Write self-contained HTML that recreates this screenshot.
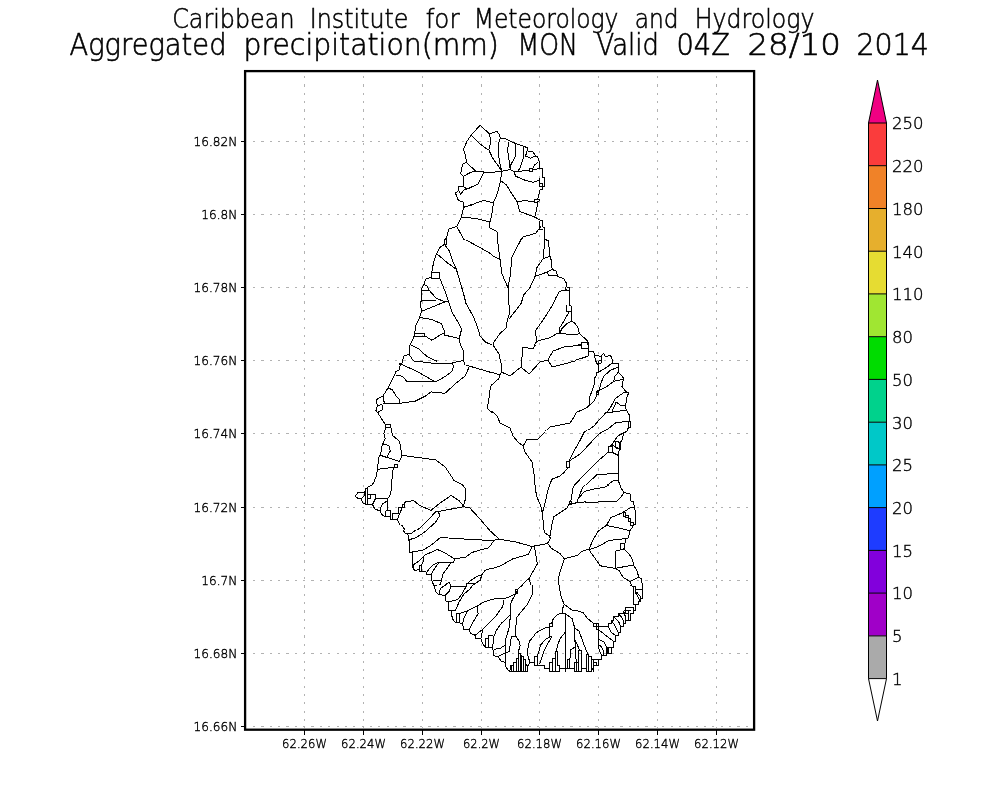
<!DOCTYPE html>
<html><head><meta charset="utf-8"><title>Aggregated precipitation</title>
<style>
html,body{margin:0;padding:0;background:#fff;}
body{width:1000px;height:800px;overflow:hidden;}
svg{display:block;}
.t1{font-family:'DejaVu Sans Light','DejaVu Sans','Liberation Sans',sans-serif;font-weight:200;font-size:26px;fill:#000;stroke:#000;stroke-width:0.55px;}
.t2{font-family:'DejaVu Sans Light','DejaVu Sans','Liberation Sans',sans-serif;font-weight:200;font-size:29.5px;fill:#000;stroke:#000;stroke-width:0.6px;}
.ax text{font-family:'DejaVu Sans Light','DejaVu Sans','Liberation Sans',sans-serif;font-weight:200;font-size:13px;fill:#000;stroke:#000;stroke-width:0.4px;}
.cb text{font-family:'DejaVu Sans Light','DejaVu Sans','Liberation Sans',sans-serif;font-weight:200;font-size:16.5px;fill:#000;stroke:#000;stroke-width:0.4px;}
</style></head><body>
<svg width="1000" height="800" viewBox="0 0 1000 800">
<rect width="1000" height="800" fill="#fff"/>
<text class="t1" y="27.5"><tspan x="172.2" textLength="122.3" lengthAdjust="spacingAndGlyphs">Caribbean</tspan> <tspan x="309.7" textLength="98.8" lengthAdjust="spacingAndGlyphs">Institute</tspan> <tspan x="425.7" textLength="33.8" lengthAdjust="spacingAndGlyphs">for</tspan> <tspan x="473.7" textLength="144.8" lengthAdjust="spacingAndGlyphs">Meteorology</tspan> <tspan x="634.7" textLength="43.8" lengthAdjust="spacingAndGlyphs">and</tspan> <tspan x="694.7" textLength="119.8" lengthAdjust="spacingAndGlyphs">Hydrology</tspan></text>
<text class="t2" y="54.6"><tspan x="69.5" textLength="157" lengthAdjust="spacingAndGlyphs">Aggregated</tspan> <tspan x="243.5" textLength="255.4" lengthAdjust="spacingAndGlyphs">precipitation(mm)</tspan> <tspan x="517.5" textLength="60.4" lengthAdjust="spacingAndGlyphs">MON</tspan> <tspan x="596.5" textLength="62.4" lengthAdjust="spacingAndGlyphs">Valid</tspan> <tspan x="676.5" textLength="53.4" lengthAdjust="spacingAndGlyphs">04Z</tspan> <tspan x="747.5" textLength="93.4" lengthAdjust="spacingAndGlyphs">28/10</tspan> <tspan x="856.5" textLength="72.4" lengthAdjust="spacingAndGlyphs">2014</tspan></text>
<g stroke="#b2b2b2" stroke-width="1" stroke-dasharray="2.2 6.15" fill="none" shape-rendering="crispEdges">
<line x1="304.5" y1="76" x2="304.5" y2="728"/>
<line x1="363.5" y1="76" x2="363.5" y2="728"/>
<line x1="422.5" y1="76" x2="422.5" y2="728"/>
<line x1="481.5" y1="76" x2="481.5" y2="728"/>
<line x1="539.5" y1="76" x2="539.5" y2="728"/>
<line x1="598.5" y1="76" x2="598.5" y2="728"/>
<line x1="657.5" y1="76" x2="657.5" y2="728"/>
<line x1="716.5" y1="76" x2="716.5" y2="728"/>
<line x1="253" y1="141.5" x2="753" y2="141.5"/>
<line x1="253" y1="214.5" x2="753" y2="214.5"/>
<line x1="253" y1="287.5" x2="753" y2="287.5"/>
<line x1="253" y1="360.5" x2="753" y2="360.5"/>
<line x1="253" y1="433.5" x2="753" y2="433.5"/>
<line x1="253" y1="507.5" x2="753" y2="507.5"/>
<line x1="253" y1="580.5" x2="753" y2="580.5"/>
<line x1="253" y1="653.5" x2="753" y2="653.5"/>
<line x1="253" y1="726.5" x2="753" y2="726.5"/>
</g>
<defs><clipPath id="cA"><rect x="330" y="205" width="340" height="35"/></clipPath><clipPath id="cB"><rect x="330" y="240" width="162" height="125"/></clipPath><clipPath id="cC"><rect x="492" y="240" width="178" height="105"/></clipPath><clipPath id="cD"><rect x="330" y="365" width="162" height="115"/></clipPath><clipPath id="cA2"><rect x="330" y="100" width="340" height="105"/></clipPath><clipPath id="cE"><rect x="492" y="345" width="83" height="85"/><rect x="492" y="430" width="53" height="55"/></clipPath><clipPath id="cF"><rect x="575" y="345" width="95" height="85"/></clipPath><clipPath id="cG"><rect x="545" y="430" width="125" height="55"/></clipPath><clipPath id="cH"><rect x="405" y="480" width="87" height="50"/><rect x="330" y="525" width="75" height="5"/><rect x="330" y="530" width="70" height="55"/></clipPath><clipPath id="cI"><rect x="492" y="485" width="178" height="100"/></clipPath><clipPath id="cH2"><rect x="330" y="480" width="75" height="45"/></clipPath><clipPath id="cH3"><rect x="400" y="530" width="92" height="55"/></clipPath><clipPath id="cJ"><rect x="330" y="585" width="205" height="115"/></clipPath><clipPath id="cK"><rect x="535" y="585" width="58" height="115"/><rect x="593" y="585" width="22" height="26"/></clipPath><clipPath id="cK2"><rect x="593" y="611" width="77" height="89"/></clipPath><clipPath id="cK3"><rect x="615" y="585" width="55" height="26"/></clipPath></defs>
<g fill="none" stroke="#000" stroke-width="1" stroke-linejoin="round" shape-rendering="crispEdges">
<path clip-path="url(#cA)" d="M480.4 125.4 L471.6 135.4 L466.4 142.4 L463.4 150.3 L465.9 156.4 L466.4 162.5 L462.5 166.0 L460.6 175.6 L463.4 177.4 L463.8 186.1 L458.9 186.7 L458.9 190.5 L455.9 193.2 L458.9 201.0 L463.8 201.9 L463.8 207.2 L461.1 217.7 L456.8 226.4 L448.9 229.0 L446.3 238.7 L444.5 239.5 L444.5 244.8 L438.4 248.3 L437.5 250.0 M480.4 125.4 L490.0 133.6 L497.0 131.4 L500.2 138.0 L505.8 138.5 L515.4 142.9 L527.1 147.6 L527.1 151.1 L533.8 152.9 L536.9 156.9 L539.4 162.5 L540.4 168.6 L542.5 169.5 L542.5 177.4 L544.6 177.9 L544.6 186.1 L542.2 187.0 L542.2 189.6 L539.4 190.2 L538.2 199.3 L540.8 200.2 L537.6 201.9 L536.9 208.0 L534.7 217.1 L540.8 220.3 L542.5 220.6 L542.5 226.9 L544.6 227.3 L544.6 239.5 L548.7 240.4 L549.9 250.0 M471.6 135.4 L480.4 144.1 L488.3 150.3 M490.0 133.6 L489.1 149.4 L493.5 160.8 L501.4 171.3 M499.8 138.9 L497.9 145.0 L497.9 153.8 L501.9 170.4 M509.3 141.5 L507.2 150.3 L508.4 162.5 L510.7 166.9 L505.8 170.7 M515.4 143.3 L514.5 153.8 L511.0 166.4 M527.1 151.1 L523.3 159.0 L519.8 170.4 M523.3 147.3 L527.1 147.3 L527.1 158.1 L523.3 158.1 L523.3 147.3 M525.0 158.1 L533.8 158.1 L535.9 155.9 M539.4 162.2 L533.8 166.0 L532.0 170.4 M529.4 168.6 L532.6 168.6 L532.6 171.3 L529.4 171.3 L529.4 168.6 M460.6 176.2 L470.8 172.1 L483.9 171.6 L501.4 171.3 L513.7 171.3 L529.4 170.4 L540.8 168.6 M466.4 162.5 L476.0 170.9 M483.9 171.6 L481.3 178.3 L477.8 184.4 L463.8 189.6 M458.9 186.7 L466.4 190.5 L463.8 201.9 M461.1 192.3 L462.9 189.6 M501.4 171.3 L497.9 187.0 L497.0 194.0 L493.5 201.9 L491.8 215.0 L490.0 222.0 M463.8 207.2 L486.5 200.7 L493.5 201.9 M461.1 217.1 L476.0 218.5 L490.0 222.0 L489.1 227.3 L497.0 231.7 L497.9 250.0 M501.4 171.3 L500.5 180.0 L509.3 188.8 L517.2 201.9 L528.5 200.2 L536.9 200.7 M513.7 171.3 L515.4 176.5 L525.0 180.0 L533.8 181.8 L539.4 180.0 M539.4 180.0 L539.4 190.2 M534.7 199.3 L538.2 199.3 M517.2 201.9 L519.8 211.5 L534.7 217.1 M540.8 226.4 L535.5 233.4 L523.3 236.9 L518.0 243.0 L515.4 250.0 M456.8 226.4 L463.8 239.5 L470.8 243.9 L482.1 250.0 M539.0 220.6 L539.0 229.0 L542.5 229.0 M444.5 239.5 L446.3 239.5 L446.3 244.8"/>
<path clip-path="url(#cB)" d="M448.5 230.0 L446.4 237.9 L444.5 238.4 L444.5 244.4 L439.8 247.5 L436.6 253.6 L433.7 261.5 L431.9 272.0 L431.4 277.3 L425.8 279.0 L424.0 284.3 L421.4 289.5 L421.4 300.0 L420.5 303.5 L421.4 311.4 L419.6 317.5 L416.1 324.5 L414.4 334.2 L413.5 338.5 L410.0 344.7 L409.1 354.3 L403.9 356.0 L402.1 363.0 L399.5 363.9 L399.2 370.0 M444.5 238.4 L446.4 238.4 L446.4 244.4 L444.5 244.4 M444.5 244.4 L449.4 251.0 L452.9 261.5 L456.4 269.4 L460.8 284.3 L464.3 296.5 L466.0 303.5 L473.9 317.5 L478.3 329.8 L480.0 335.9 L485.3 342.0 L493.2 345.5 L499.3 356.0 M493.2 345.5 L500.0 333.3 M459.0 230.0 L465.2 239.6 L478.3 246.6 L490.5 253.6 L500.0 258.0 M436.6 253.6 L446.8 262.4 L456.4 269.4 M431.4 272.4 L439.8 272.4 L439.8 278.1 L431.4 278.1 L431.4 272.4 M439.8 278.1 L445.0 291.3 L448.5 301.8 L452.0 312.3 L457.3 321.0 L461.7 328.9 L459.0 339.4 L460.8 345.5 L463.4 350.8 L463.4 360.4 L466.0 368.3 M424.0 284.3 L426.7 285.7 L429.3 290.4 L436.3 298.3 L445.0 301.8 M421.4 290.4 L429.3 290.4 M421.4 300.0 L436.3 300.0 M421.4 311.4 L445.0 301.8 L448.5 301.8 M419.6 317.5 L431.0 319.3 L441.5 323.7 L444.2 330.7 L444.2 335.0 L459.0 338.5 M414.4 333.3 L424.9 333.3 L424.9 336.3 L414.4 336.3 M424.9 335.9 L431.9 340.3 L441.5 334.2 L445.0 333.3 M410.0 344.7 L418.8 349.0 L427.5 356.9 L437.2 361.3 M409.1 354.3 L413.5 360.9 L431.0 363.0 L452.0 363.0 L463.4 360.4 M452.0 363.0 L453.8 370.0 M399.5 363.9 L417.0 370.0 M466.0 368.3 L469.5 365.7 L485.3 370.0"/>
<path clip-path="url(#cC)" d="M544.8 230.0 L545.1 239.6 L548.3 240.5 L550.0 256.3 L551.4 260.6 L552.1 269.4 L556.1 271.1 L557.9 276.4 L564.0 279.0 L566.1 282.5 L566.7 286.9 L569.6 287.8 L569.6 305.3 L571.4 306.1 L571.4 321.0 L575.4 323.7 L578.0 328.0 L579.4 333.3 L587.7 341.2 L588.5 350.8 L593.8 351.7 L594.1 354.3 L600.8 356.9 L603.4 353.4 L606.0 356.9 L610.4 355.2 L613.0 359.5 L613.4 363.0 L618.3 363.9 L619.2 370.0 M536.0 230.0 L535.1 233.5 L522.0 237.9 L516.8 247.5 L511.5 258.0 L510.6 273.8 L508.0 287.8 L508.9 303.5 L509.8 312.3 L507.1 321.0 L506.3 328.0 L500.1 333.3 L494.0 342.0 L493.1 345.5 M496.6 230.0 L497.5 240.5 L500.1 259.8 L501.9 273.8 L508.0 287.8 M480.0 247.5 L490.5 254.5 L500.1 259.8 M544.8 240.5 L543.0 258.9 L550.0 256.3 M543.0 258.9 L536.9 267.6 L535.1 276.4 L529.9 287.8 L523.8 294.8 L521.1 303.5 L515.0 311.4 L508.9 319.3 M535.1 276.4 L547.4 272.0 L552.1 269.4 M547.4 272.0 L548.3 275.2 L557.0 275.9 M566.7 289.5 L559.6 291.3 L556.1 297.4 L553.5 303.5 L544.8 317.5 L538.6 326.3 L535.1 331.5 L536.9 341.2 M565.3 286.9 L565.3 290.4 L569.6 290.4 M566.7 305.3 L566.7 311.4 L571.4 311.4 M569.3 311.4 L564.0 321.0 L559.6 328.0 L559.1 333.3 M571.4 321.0 L566.7 323.7 L562.3 328.0 L559.6 333.3 M559.1 333.3 L575.4 335.0 L579.4 333.3 M536.9 341.2 L550.0 337.7 L557.0 333.6 L559.6 333.3 M536.9 341.2 L532.5 348.2 L524.6 347.3 L522.9 356.0 L521.1 366.5 L517.6 370.0 M581.5 342.4 L588.2 342.4 L588.2 348.2 L581.5 348.2 L581.5 342.4 M581.5 344.7 L564.0 346.4 L551.8 350.8 L547.4 359.5 L550.9 366.5 L567.5 363.0 L586.8 356.9 L588.5 350.8 M547.4 359.5 L539.5 362.2 L532.5 370.0 M493.1 345.5 L497.5 352.5 L500.1 359.5 L501.0 370.0 M480.0 335.9 L483.5 338.5 L487.0 342.9 L493.1 345.5 M521.1 366.5 L523.8 370.0"/>
<path clip-path="url(#cD)" d="M400.4 362.6 L399.5 369.6 L396.0 371.4 L392.5 379.3 L388.1 388.0 L382.9 395.9 L376.8 399.4 L375.9 401.1 L377.6 405.5 L375.9 410.8 L377.6 412.5 L385.5 424.8 L385.9 427.4 L383.8 433.5 L385.2 438.8 L382.0 445.8 L380.6 454.5 L378.5 458.0 L377.6 469.4 L375.9 477.3 L372.4 485.2 L366.3 488.7 L365.4 493.0 L358.4 493.4 L356.1 495.7 L358.4 498.3 L365.4 498.3 L366.3 500.0 M413.5 360.0 L431.0 362.6 L452.0 362.6 L463.4 360.0 M452.0 362.6 L453.8 365.3 L452.0 371.4 L445.0 376.6 L435.4 381.9 L417.0 371.4 L399.5 363.5 M395.7 375.4 L402.1 376.1 L407.4 381.9 L435.4 381.9 M463.4 360.0 L466.0 365.3 L469.5 366.1 L500.0 375.1 M469.5 366.1 L465.2 375.8 L455.5 383.6 L445.0 393.3 L431.0 391.9 L425.8 395.9 L415.3 401.1 L399.5 403.4 L382.9 403.4 M388.1 388.0 L392.5 389.8 L396.0 395.9 L399.5 399.4 L399.5 403.4 M382.9 395.9 L383.8 401.1 L385.5 403.4 M377.6 405.5 L382.0 404.6 L382.0 409.9 L377.6 412.5 M385.9 424.4 L390.8 424.4 L390.8 427.4 L385.9 427.4 M390.8 427.4 L392.5 435.3 L399.5 441.4 L402.1 455.4 L399.5 461.5 L380.6 455.4 M382.0 444.0 L388.7 445.3 L390.4 451.0 L387.6 455.4 L386.9 457.7 M402.1 455.4 L435.4 459.8 L445.0 466.8 L453.8 479.9 L464.3 486.0 L466.0 493.0 L465.2 500.0 M394.3 464.2 L397.4 464.2 L397.4 467.1 L394.3 467.1 L394.3 464.2 M377.6 469.4 L394.3 467.1 M393.4 467.1 L391.6 482.5 L390.8 491.3 L389.0 500.0 M500.0 375.1 L490.5 386.3 L488.8 400.3 L487.0 408.1 L495.8 416.0 L500.0 421.3 M445.0 500.0 L452.0 494.8 L456.4 500.0 M365.4 488.7 L367.7 488.7 L367.7 500.0 M366.3 494.4 L375.0 494.4 L375.0 499.2 L387.3 499.2"/>
<path clip-path="url(#cA2)" d="M480.1 125.4 L471.4 134.6 L466.9 141.4 L463.5 149.2 L465.7 156.0 L466.3 162.5 L462.6 164.4 L460.7 174.0 L463.5 176.2 L463.5 186.4 L458.8 186.6 L458.8 190.3 L455.4 193.1 L458.4 200.4 L463.5 202.1 L463.5 210.0 M480.1 125.4 L489.9 134.1 L491.1 133.5 L496.7 131.2 L498.9 134.1 L500.3 138.0 L505.1 138.6 L514.7 143.1 L527.1 147.6 L527.1 150.9 L532.7 151.5 L535.5 156.0 L537.7 156.6 L539.4 162.2 L539.4 168.4 L542.2 168.6 L542.2 177.4 L544.7 177.6 L544.7 186.4 L542.2 186.9 L542.2 189.5 L540.0 189.7 L538.9 194.2 L537.7 199.3 L540.0 200.1 L537.2 202.1 L537.2 210.0 M471.4 135.2 L480.4 144.2 L488.2 150.1 M489.9 134.1 L490.3 143.6 L488.8 149.8 L492.7 158.2 L498.4 166.1 L501.7 171.2 M500.3 138.0 L498.4 144.2 L498.1 152.6 L499.5 161.6 L501.7 171.2 M508.7 142.3 L507.6 149.2 L508.5 157.1 L509.6 163.9 L510.2 169.5 M515.0 143.8 L515.0 157.1 L510.7 165.0 L510.2 169.5 M523.1 147.0 L523.1 158.8 L520.3 167.2 L518.1 171.2 M527.1 150.9 L525.6 156.0 L530.4 158.2 L534.4 156.2 M537.7 162.7 L534.4 165.0 L532.1 169.5 M529.3 168.4 L532.3 168.4 L532.3 171.2 L529.3 171.2 L529.3 168.4 M532.3 170.1 L539.4 168.4 M466.3 162.5 L475.9 171.2 M463.5 176.2 L470.8 172.3 L475.9 171.2 L483.7 171.7 L486.0 172.9 L495.0 172.0 L501.7 171.2 L510.2 169.5 L513.6 171.5 L518.1 171.2 L529.3 170.6 M483.7 172.0 L481.5 177.4 L478.1 183.9 L466.9 189.2 L463.5 190.3 M458.8 190.3 L460.7 194.2 L463.5 190.3 M463.5 186.4 L466.9 189.2 M501.7 171.2 L500.6 180.7 L498.4 189.7 L496.7 195.4 L493.3 202.7 L492.2 210.0 M463.5 207.2 L472.5 204.4 L483.7 200.4 L493.3 202.7 M500.6 180.7 L506.2 184.7 L510.7 192.0 L515.2 198.7 L517.5 202.1 L518.6 210.0 M513.6 171.5 L515.8 176.2 L523.1 179.6 L533.2 182.4 L537.7 180.7 L539.4 180.2 M539.4 177.6 L539.4 186.4 L542.2 186.9 M540.0 183.6 L542.8 183.6 L542.8 189.2 M517.5 202.1 L524.2 200.4 L534.4 202.1 L537.2 202.1 M534.4 199.3 L538.3 199.3 M534.4 199.3 L534.4 202.1"/>
<path clip-path="url(#cE)" d="M579.0 330.0 L580.0 334.0 L588.0 341.0 L589.0 351.0 L594.0 351.0 L595.0 355.0 L600.0 357.0 M480.0 337.0 L488.0 342.0 L493.0 345.0 L499.0 354.0 L501.4 365.0 L501.4 372.0 L500.0 375.0 L499.0 378.4 L491.0 386.0 L489.4 394.0 L487.4 403.0 L487.4 408.0 L497.0 415.6 L500.0 423.0 L510.0 428.0 L513.0 436.0 L518.0 442.0 L523.0 446.0 L525.0 452.0 L532.0 462.0 L534.0 474.0 L535.0 490.0 M480.0 368.6 L500.0 375.0 M501.4 372.0 L510.0 376.0 L521.0 367.0 L529.0 374.0 L540.0 362.0 L548.0 360.0 M493.0 345.0 L502.0 330.0 M521.0 367.0 L523.0 347.0 L533.0 349.0 L537.0 342.0 L552.0 338.0 L560.0 333.0 L579.0 334.0 M535.0 330.0 L537.0 342.0 M560.0 330.0 L560.0 333.0 M581.6 342.4 L588.0 342.4 L588.0 348.4 L581.6 348.4 L581.6 342.4 M581.6 345.0 L564.0 347.0 L553.0 351.0 L548.0 360.0 L552.0 367.0 L568.0 363.0 L588.0 357.0 L589.0 351.0 M523.0 446.0 L527.0 439.6 L538.0 439.0 L550.0 427.0 L570.0 423.0 L578.0 411.0 L589.0 406.0 L590.0 396.0 L595.0 384.0 L598.0 373.0 L600.0 364.0 L600.0 360.0 M628.4 393.0 L618.0 399.0 L608.0 412.0 L598.0 421.0 L584.0 433.0 L576.0 448.0 L570.0 460.0 M629.0 421.0 L612.0 424.0 L598.0 434.0 L570.0 460.0 M566.4 461.0 L569.6 461.0 L569.6 468.0 L566.4 468.0 L566.4 461.0 M568.0 468.0 L564.0 474.0 L553.0 479.0 L550.0 486.0 L549.0 490.0 M606.0 455.0 L568.0 476.0 M618.0 456.0 L608.0 455.0 L592.0 468.0 L574.0 486.0 L571.0 490.0"/>
<path clip-path="url(#cF)" d="M588.1 340.0 L588.8 351.2 L593.8 351.5 L594.4 355.6 L601.2 356.2 L603.5 353.1 L605.6 356.9 L610.0 355.2 L611.9 357.5 L612.5 363.1 L618.1 363.5 L618.5 372.5 L621.2 375.0 L623.8 378.8 L622.5 383.1 L621.9 386.2 L625.0 390.6 L628.5 393.1 L626.9 397.5 L625.6 405.6 L626.2 410.0 L629.4 415.0 L630.0 421.2 L630.6 427.5 L628.1 428.1 L626.2 432.5 L623.1 433.8 L621.9 440.0 M581.5 342.5 L588.1 342.5 L588.1 348.5 L581.5 348.5 L581.5 342.5 M581.5 345.0 L572.5 346.0 L560.0 348.8 M588.5 348.5 L588.5 356.2 M588.1 356.2 L572.5 361.2 L560.0 365.6 M594.4 355.6 L595.6 360.6 L597.5 364.4 L598.8 363.1 M598.8 360.6 L601.2 360.6 L601.2 363.1 L598.8 363.1 L598.8 360.6 M598.8 363.1 L598.1 372.5 L596.2 373.1 L596.2 375.6 L595.0 377.5 L593.8 386.2 L590.0 396.2 L589.0 405.6 L586.2 408.1 L576.2 412.5 L572.5 418.8 L570.0 423.1 L560.0 425.0 M601.2 356.2 L601.2 360.6 M611.9 363.1 L607.5 366.9 L598.1 372.5 M618.1 366.9 L610.0 370.6 L603.8 376.2 L601.2 382.5 L599.4 390.0 L596.9 392.5 L596.9 394.4 M618.1 372.5 L614.4 376.9 L613.8 381.2 L623.1 379.4 M613.8 381.2 L606.2 386.9 L598.8 390.6 M596.5 390.6 L598.8 390.6 L598.8 394.4 L596.5 394.4 L596.5 390.6 M597.5 394.4 L593.8 401.2 L589.4 405.6 M628.5 393.1 L623.8 392.5 L615.0 398.8 L611.2 406.2 L607.5 411.9 M616.2 401.9 L611.9 411.9 M616.2 401.9 L620.0 405.0 L625.6 405.6 M626.2 410.0 L615.0 411.9 L606.2 412.5 L600.0 418.8 L593.8 426.2 L585.0 432.5 L580.6 440.0 M628.5 421.0 L630.6 421.0 L630.6 427.5 L628.5 427.5 L628.5 421.0 M628.5 421.2 L622.5 421.9 L615.0 423.1 L607.5 429.4 L598.8 435.0 L593.1 440.0 M628.1 428.1 L626.2 432.5 L618.8 435.0 L615.0 440.0"/>
<path clip-path="url(#cG)" d="M630.7 420.7 L630.7 426.7 L628.5 427.5 L627.0 431.2 L624.0 432.7 L621.7 441.0 L619.5 442.5 L619.5 449.2 L618.0 455.2 L618.0 480.0 L621.0 487.5 L623.2 492.0 L630.0 493.5 L630.7 501.0 L633.7 501.7 L634.5 510.0 L635.2 516.0 L635.2 522.0 L633.7 522.7 L633.0 528.0 L630.0 528.7 L629.2 531.7 L628.5 540.0 M628.5 420.7 L628.5 427.5 M538.1 438.9 L543.0 432.7 L546.7 428.7 L550.5 426.0 L559.5 424.5 L570.0 422.2 L572.2 420.0 M598.5 420.0 L592.5 426.7 L584.2 432.0 L579.7 441.0 L574.5 450.0 L569.2 460.5 M566.7 461.2 L569.7 461.2 L569.7 467.2 L566.7 467.2 L566.7 461.2 M568.2 467.2 L564.0 472.5 L559.5 476.2 L552.0 479.2 L549.0 486.0 L546.0 496.5 L543.3 508.5 L542.2 513.0 L542.2 525.0 L543.7 531.7 L549.7 535.5 L551.2 537.0 L549.7 540.0 M540.0 504.7 L542.2 511.5 M628.5 421.5 L615.0 423.0 L607.5 429.0 L598.5 434.2 L589.5 444.0 L580.5 453.7 L570.0 460.5 M624.0 432.7 L618.0 435.7 L614.2 441.0 L612.0 444.7 L609.0 447.0 L608.2 452.2 L598.5 460.5 L585.0 474.0 L573.7 486.0 L571.5 498.0 L570.0 501.7 M614.2 441.0 L620.2 442.5 M612.0 444.7 L617.2 447.7 L619.5 449.2 M608.2 446.2 L612.0 446.2 L612.0 452.2 L608.2 452.2 L608.2 446.2 M615.0 441.0 L620.2 442.5 L620.2 449.2 L615.0 447.7 L615.0 441.0 M618.0 455.2 L612.0 452.2 M618.0 473.2 L597.0 474.7 L589.5 481.5 L579.0 492.0 L572.2 499.5 M618.0 480.0 L613.5 480.7 L606.0 486.0 L592.5 489.0 L585.0 492.0 L577.5 502.5 M569.7 501.0 L572.2 501.0 L572.2 504.0 L569.7 504.0 L569.7 501.0 M623.2 492.0 L619.5 498.0 L613.5 501.7 L603.0 501.7 L594.0 503.2 L588.0 501.7 L577.5 502.5 L570.0 504.0 L565.5 508.5 L558.0 513.7 L553.5 517.5 L551.2 525.0 L549.7 535.5 M630.0 501.0 L625.5 505.5 L621.7 510.7 L621.0 513.7 L613.5 514.5 L609.0 518.2 L606.0 525.0 L600.0 527.2 L595.5 534.0 L592.5 540.0 M606.0 525.0 L618.0 528.7 L628.5 531.7 M634.5 508.5 L628.5 508.5 L625.5 511.5 L624.7 516.0"/>
<path clip-path="url(#cH)" d="M377.6 470.0 L375.9 478.8 L372.4 484.9 L367.1 488.4 L365.9 492.4 L358.4 492.4 L355.8 496.3 L361.0 498.9 L363.6 503.3 L368.0 504.1 L372.4 504.1 L375.0 507.6 L381.1 511.1 L382.9 514.6 L385.9 515.9 L390.8 516.4 L390.8 519.0 L397.8 519.0 L407.4 533.9 L407.4 540.0 L409.1 540.9 L409.7 552.3 L412.6 553.2 L412.6 565.4 L414.4 570.7 L419.6 570.7 L422.3 571.5 L426.7 572.4 L426.7 574.2 L431.0 575.0 L431.9 581.2 L434.5 586.4 L435.4 592.5 L439.8 595.2 L444.2 596.0 L445.9 600.4 L448.5 601.3 L448.9 610.0 M365.9 488.4 L367.7 488.4 L367.7 504.1 L365.9 504.1 L365.9 488.4 M367.7 494.5 L375.9 494.5 L375.9 498.9 L367.7 498.9 L367.7 494.5 M361.0 498.9 L364.5 494.5 M393.4 470.0 L392.2 484.0 L390.8 494.5 L387.6 498.9 L375.9 498.0 M387.3 498.9 L387.3 511.1 M383.8 502.4 L381.1 506.8 L381.1 511.1 M385.9 510.6 L389.9 510.6 L389.9 515.9 L385.9 515.9 L385.9 510.6 M390.8 516.4 L392.5 513.8 L396.9 513.8 L396.9 507.6 L401.3 507.6 L401.3 504.1 L404.8 504.1 L405.1 501.9 M392.5 513.8 L392.5 519.0 M397.8 513.8 L397.8 519.0 M405.1 501.9 L413.5 500.6 L420.5 505.9 L431.0 510.3 L439.8 503.3 L451.2 495.4 L459.0 500.6 L463.4 505.9 M400.4 510.3 L397.8 519.0 M447.7 470.0 L453.8 480.5 L462.5 484.9 L465.2 488.4 L465.2 499.8 L463.4 505.9 M407.4 533.9 L415.3 532.1 L427.5 520.8 L435.4 512.0 L463.4 506.8 L469.5 507.6 L480.0 519.0 L490.5 531.3 L500.0 540.0 M438.0 511.1 L439.8 515.5 L435.4 522.5 L427.5 529.5 L418.8 536.5 L410.0 540.0 M409.7 552.3 L417.0 551.4 L427.5 547.0 L435.4 540.9 L440.7 537.4 L462.5 539.1 L480.0 540.0 L500.0 540.0 M494.0 540.9 L488.8 547.0 L480.0 549.6 L471.3 552.3 L466.0 556.7 L453.8 559.3 L445.0 553.2 L438.0 549.6 L425.8 555.8 L422.3 559.3 L417.0 565.4 L414.4 570.7 M424.0 555.8 L422.3 564.5 L420.5 565.4 L419.6 571.5 M453.8 559.3 L452.9 562.8 L438.0 562.8 L431.0 567.2 L426.7 572.4 M438.0 563.7 L432.8 571.5 L431.9 581.2 M451.2 562.8 L445.0 569.8 L441.5 578.5 L440.7 583.8 L434.5 586.4 M431.9 581.2 L440.7 580.3 M448.5 582.0 L443.3 585.5 L439.8 590.8 L439.8 595.2 M450.3 582.9 L451.2 585.5 L448.5 590.8 L444.2 596.0 M448.5 582.0 L450.3 582.9 M451.2 585.5 L466.0 585.5 L466.0 583.8 L468.7 583.8 L468.7 582.0 L474.8 582.0 L481.8 575.0 L483.5 573.3 L485.3 569.8 L492.3 567.2 L500.0 565.4 M466.0 585.5 L462.5 592.5 L459.0 599.5 L448.5 601.3 M474.8 582.9 L466.0 592.5 L460.8 599.5 L456.4 610.0 M500.0 597.8 L488.8 600.4 L478.3 605.7 L474.8 610.0"/>
<path clip-path="url(#cI)" d="M619.5 480.0 L620.4 487.0 L623.9 492.3 L630.0 494.0 L630.9 501.0 L633.5 501.9 L635.3 511.5 L635.6 523.8 L633.5 525.5 L630.0 530.8 L628.3 537.8 L625.7 538.6 L624.8 543.9 L623.9 549.1 L630.0 555.3 L632.7 560.5 L633.5 564.9 L637.0 571.0 L638.8 577.2 L641.4 578.9 L642.3 585.0 L642.3 595.5 L641.4 600.8 L638.8 604.3 L636.2 605.2 L635.3 609.5 L631.8 610.4 L630.0 620.0 M534.6 480.0 L536.4 495.8 L541.6 508.0 L543.4 523.8 L544.3 532.5 L549.5 536.0 L550.4 538.6 L547.8 543.0 M551.3 480.0 L547.8 490.5 L545.1 502.8 L542.5 512.4 M490.0 530.8 L499.6 539.5 M490.0 540.4 L500.5 539.5 L516.3 542.1 L532.0 546.5 L547.8 543.4 M493.5 541.3 L490.0 545.6 M547.8 543.4 L551.3 548.3 L560.0 553.5 L564.4 558.8 L577.5 555.3 L581.0 551.8 L588.9 549.1 M550.4 536.0 L551.3 527.3 L553.9 516.8 L567.0 508.0 L569.6 503.6 L577.5 502.8 L584.5 501.9 L593.3 502.8 L603.8 501.0 L616.0 501.9 L621.3 496.6 L623.9 492.3 M569.1 501.0 L571.9 501.0 L571.9 504.5 L569.1 504.5 L569.1 501.0 M570.9 501.0 L573.2 487.0 L580.2 480.0 M591.5 480.0 L582.8 487.0 L576.7 502.8 M616.0 480.9 L605.5 487.0 L595.0 488.8 L584.5 491.4 L578.4 498.4 M588.9 549.1 L593.3 539.5 L598.5 530.8 L606.4 525.5 L610.8 517.6 L621.3 513.3 L630.0 508.0 L633.5 507.1 M606.4 525.5 L619.5 528.1 L630.0 530.8 M588.9 549.7 L598.5 546.5 L609.0 540.4 L625.7 538.6 M588.9 549.7 L600.3 565.8 L615.2 568.4 L633.5 564.9 M615.2 568.4 L616.0 550.9 L623.9 549.1 M615.2 568.4 L619.5 571.0 L623.0 577.2 L630.0 581.5 L631.8 585.9 L635.3 586.8 M630.0 581.5 L638.8 577.2 M564.4 558.8 L560.9 569.3 L558.3 578.0 L559.1 588.5 L560.9 599.0 L565.3 606.0 L574.0 610.4 L584.5 612.2 L589.8 620.0 M565.3 606.0 L562.6 611.3 L553.9 616.5 L552.1 620.0 M562.6 611.3 L565.3 618.3 M534.6 547.4 L537.3 564.0 L529.4 578.0 L532.0 593.8 L525.0 606.0 L516.3 620.0 M532.0 546.5 L528.5 554.4 L512.8 558.8 L500.5 565.8 L490.0 569.3 M529.4 578.0 L516.3 590.3 L504.0 599.0 L490.0 601.7 M514.9 589.4 L517.7 589.4 L517.7 592.9 L514.9 592.9 L514.9 589.4 M516.3 592.9 L511.9 600.8 L509.3 620.0 M504.0 599.0 L500.5 606.0 L493.5 620.0 M623.0 512.4 L625.7 512.4 L625.7 515.0 L628.3 515.0 L628.3 518.5 L630.9 518.5 L630.9 522.9 L633.5 522.9 L633.5 525.5 M625.7 512.4 L625.7 517.6 L628.3 517.6 L628.3 521.1 L630.9 521.1 L630.9 525.5 L633.5 525.5 M623.0 512.4 L623.0 515.9 L625.7 517.6 M619.5 543.9 L624.8 543.9 L624.8 549.1 L620.4 549.1 L620.4 543.9 M633.5 586.8 L633.5 602.5 L638.8 604.3 M636.2 593.8 L639.7 600.8 M635.3 586.8 L642.3 586.8 M635.3 609.5 L626.5 609.5 L623.0 614.8 L614.3 616.5 L613.4 620.0 M626.5 609.5 L626.5 614.8 L629.2 614.8 L629.2 610.4"/>
<path clip-path="url(#cH2)" d="M377.8 470.0 L376.3 473.0 L375.5 478.3 L374.0 482.4 L371.8 485.0 L368.0 486.9 L367.6 488.4 L365.4 488.4 L365.4 491.4 L364.3 492.1 L358.3 492.1 L355.3 496.3 L357.5 498.1 L360.9 498.9 L363.1 503.0 L365.4 503.4 L365.4 504.5 L372.5 504.5 L374.8 509.0 L380.0 510.9 L381.5 514.3 L384.1 516.1 L390.5 516.5 L390.5 519.5 L397.3 519.5 L402.5 530.0 M367.6 488.4 L367.6 504.5 M365.4 491.4 L365.4 503.4 M367.6 494.4 L375.5 494.4 L375.5 498.5 L387.5 498.5 M367.6 498.5 L370.3 498.5 L370.3 495.1 M375.5 498.5 L374.0 501.5 L372.5 504.5 M364.3 492.1 L365.0 494.8 L360.9 498.9 M394.3 470.0 L392.8 474.5 L391.6 483.5 L390.9 492.5 L389.8 495.9 L387.5 498.5 M387.5 498.5 L387.5 510.5 M387.1 501.1 L383.0 503.4 L380.8 507.5 L380.4 510.9 M385.6 510.5 L390.5 510.5 L390.5 516.1 L385.6 516.1 L385.6 510.5 M392.4 519.5 L392.4 513.5 L398.0 513.5 L398.0 507.5 L402.5 507.5 L402.5 504.5 L404.4 504.5 L405.1 501.5 M402.5 504.5 L402.5 507.1 L404.4 507.1 L404.4 504.5 M405.1 501.5 L409.3 503.0 L413.8 500.0 L420.0 505.3 M402.5 506.8 L397.3 519.5"/>
<path clip-path="url(#cH3)" d="M403.0 530.0 L405.0 533.0 L408.0 534.5 L408.0 540.0 L409.5 540.5 L409.5 552.5 L412.5 552.8 L412.5 567.0 L414.5 571.0 L419.5 569.0 L419.5 571.5 L426.0 571.5 L426.5 574.5 L431.5 574.5 L431.5 580.0 L434.5 587.0 L436.0 593.0 L439.0 595.0 L444.0 595.5 L446.0 600.0 L448.5 601.0 L448.5 610.0 M405.0 533.0 L412.0 533.0 L416.0 530.0 M408.0 540.0 L415.0 538.0 L422.0 534.0 L427.0 530.0 M409.5 552.5 L415.0 551.5 L423.0 550.0 L430.0 546.0 L435.0 542.0 L440.5 537.5 L464.0 539.0 L482.0 540.0 L500.0 540.0 M489.0 530.0 L496.0 536.0 L500.0 538.5 M494.5 541.0 L488.0 548.0 L480.0 550.0 L472.0 552.5 L466.0 557.0 L454.5 559.0 L446.0 553.5 L437.5 549.5 L425.0 555.0 L419.0 561.0 L413.0 565.0 L414.5 571.0 M424.0 556.5 L423.0 562.0 L421.0 565.5 L421.0 571.0 M419.5 565.0 L421.2 565.0 M419.5 565.0 L419.5 569.0 M454.5 559.0 L453.5 562.5 L438.0 562.5 L433.0 565.0 L427.0 571.5 M438.5 563.0 L435.0 568.0 L432.0 573.0 L431.5 574.5 M451.0 562.5 L446.0 570.0 L443.0 574.0 L441.5 580.0 L440.5 584.5 L436.0 586.5 M432.5 580.5 L441.5 580.5 M449.0 582.5 L443.0 586.0 L440.0 590.0 L439.5 595.0 M449.0 582.5 L451.0 585.5 L449.0 591.0 L444.5 595.0 M451.0 586.5 L466.0 586.5 L466.5 584.0 L469.0 583.5 L474.5 584.0 M466.0 586.5 L462.0 594.0 L457.0 600.0 L448.5 601.0 M500.0 565.0 L493.0 567.5 L485.0 570.5 L482.0 574.5 L480.0 580.5 L474.5 584.0 L470.0 589.0 L464.0 594.0 L459.0 602.0 L455.0 610.0 M482.0 574.5 L476.0 577.0 L470.0 581.0 L467.0 584.0 M500.0 598.0 L490.0 600.0 L480.0 605.0 L470.0 610.0 M478.0 606.0 L478.0 610.0"/>
<path clip-path="url(#cJ)" d="M431.9 580.0 L434.0 585.6 L436.1 591.9 L438.9 594.7 L445.2 595.4 L445.9 601.0 L448.7 601.7 L448.7 610.1 L451.5 610.8 L452.2 618.5 L455.0 622.0 L458.5 622.7 L462.7 623.4 L463.4 629.0 L469.0 629.7 L470.4 633.2 L475.3 635.3 L475.7 638.1 L480.9 638.5 L482.3 643.0 L485.1 647.2 L492.8 647.2 L493.5 655.6 L498.4 657.0 L501.2 661.2 L505.4 662.6 L506.1 667.5 L509.6 671.7 L527.8 671.7 L527.8 666.1 L529.9 662.6 L534.1 662.6 L534.8 665.4 L543.9 665.4 L544.6 668.2 L548.8 668.9 L549.5 671.7 L560.0 671.7 M440.3 588.4 L448.7 582.8 L450.8 585.6 L449.4 591.2 L445.2 595.4 M440.3 588.4 L438.9 594.7 M431.9 580.0 L441.7 580.0 M434.0 585.6 L441.0 584.2 M450.8 586.3 L466.2 586.3 L466.9 583.5 L469.0 583.5 L480.2 580.0 M473.9 583.5 L470.0 589.0 L464.0 594.0 L459.1 602.0 L457.1 606.6 L455.7 610.1 L448.7 610.1 M466.2 586.3 L462.0 594.0 L457.8 599.6 L448.7 601.7 M527.8 580.0 L518.0 589.1 L515.9 593.3 L509.6 596.8 L504.0 598.9 L494.2 598.9 L484.4 601.7 L477.4 605.9 L467.6 610.8 L459.2 613.6 L456.4 613.6 M515.2 589.1 L517.7 589.1 L517.7 593.3 L515.2 593.3 L515.2 589.1 M456.4 613.6 L456.4 622.7 M459.9 613.6 L459.9 622.7 M467.6 610.8 L464.1 617.8 L462.7 623.4 M477.4 605.9 L478.1 613.6 L473.9 620.6 L469.0 629.7 M504.0 599.6 L502.6 606.6 L495.6 616.4 L487.2 624.8 L483.0 629.0 L475.3 635.3 M483.0 629.0 L480.9 638.1 M515.9 593.3 L511.7 601.0 L510.3 605.2 L510.3 615.0 L509.6 626.2 L507.5 633.2 L505.4 640.2 L505.4 645.8 M510.3 615.0 L501.2 623.4 L496.3 630.4 L493.5 637.4 L492.8 647.2 M485.1 638.8 L488.6 638.8 L488.6 635.3 L492.8 635.3 M485.1 638.8 L485.1 647.2 M488.6 638.8 L488.6 647.2 M493.5 649.3 L499.8 648.6 L505.4 645.1 M505.4 645.8 L505.4 652.8 L498.4 656.3 M505.4 652.8 L509.6 651.4 M505.4 662.6 L505.4 652.8 M532.0 580.0 L532.7 594.0 L527.8 603.8 L520.8 612.2 L516.6 617.8 L515.9 626.2 L515.9 636.0 L519.4 641.6 L520.1 645.8 L518.0 652.8 M515.9 636.0 L511.7 636.7 L510.3 641.6 L509.6 651.4 M509.6 671.7 L511.0 665.4 L513.1 665.4 L513.1 662.6 L516.6 662.6 L516.6 658.4 L518.0 658.4 L518.0 653.5 L520.1 653.5 L521.5 656.3 L523.6 656.3 L523.6 659.1 L525.7 659.1 L525.7 664.0 L527.8 666.1 M511.0 665.4 L511.0 671.7 M513.1 662.6 L513.1 671.7 M516.6 658.4 L516.6 671.7 M518.0 653.5 L518.0 671.7 M520.1 653.5 L520.1 671.7 M521.5 656.3 L521.5 671.7 M523.6 659.1 L523.6 671.7 M525.7 664.0 L525.7 671.7 M529.9 662.6 L527.1 652.8 L529.2 641.6 L536.2 633.2 L543.2 628.3 L549.5 626.2 M549.5 623.4 L552.3 623.4 L552.3 626.2 L549.5 626.2 L549.5 623.4 M552.3 623.4 L554.4 617.8 L560.0 613.6 M550.2 626.2 L550.2 636.0 L546.0 643.0 L543.9 650.0 L543.9 665.4 M550.2 636.0 L543.2 640.2 L539.7 647.2 L539.0 656.3 L534.8 657.0 M551.6 636.7 L539.0 665.4 M550.2 636.0 L551.6 636.7 M534.8 656.3 L537.6 656.3 L537.6 665.4 L534.8 665.4 L534.8 656.3 M549.5 671.7 L549.5 662.6 L552.3 662.6 L552.3 659.1 L555.1 659.1 L555.1 650.7 L558.6 650.7 L558.6 640.2 L560.0 639.5 M552.3 662.6 L552.3 671.7 M555.1 659.1 L555.1 671.7 M558.6 650.7 L558.6 671.7"/>
<path clip-path="url(#cK)" d="M530.0 662.6 L534.2 662.6 L534.2 665.4 L544.0 665.4 L544.7 668.9 L548.9 668.9 L549.6 671.7 L559.4 671.7 L560.1 668.9 L565.0 668.9 L565.0 672.4 L565.7 668.9 L574.1 668.9 L574.8 671.7 L581.1 671.7 L581.8 668.9 L586.0 668.9 L586.7 671.7 L591.6 671.7 L592.3 668.9 L597.9 668.9 L598.6 664.0 L601.4 659.8 L603.5 656.3 L606.3 656.3 L607.0 653.5 L611.2 653.5 L611.9 647.9 L614.0 647.2 L615.4 641.6 L615.4 636.0 L618.9 635.3 L621.0 632.5 L621.7 626.9 L625.2 626.2 L625.9 621.3 L630.1 620.6 L630.8 612.9 L633.6 612.2 L635.7 610.1 L635.7 604.5 L637.8 603.8 L638.5 601.0 L641.3 600.3 L642.7 597.5 L642.7 580.0 M558.7 580.0 L559.4 588.4 L561.5 598.2 L564.3 604.5 L572.0 610.1 L579.0 611.1 L583.2 612.9 L587.4 618.5 L593.7 623.4 M564.3 604.5 L562.2 609.4 L562.9 612.9 L558.0 614.3 L553.1 619.2 L551.7 623.4 M549.6 623.4 L552.4 623.4 L552.4 626.9 L549.6 626.9 L549.6 623.4 M549.6 626.9 L544.0 628.3 L538.4 631.5 L534.9 633.9 M549.6 626.9 L549.6 636.0 L551.7 636.7 L548.2 643.0 L544.0 651.4 L539.8 664.0 M551.0 636.0 L545.4 639.5 L540.5 645.1 L537.7 655.6 M534.2 656.3 L537.7 656.3 L537.7 665.4 M534.2 656.3 L534.2 662.6 M562.9 612.9 L565.0 613.6 L565.7 622.0 L565.7 672.4 M565.0 613.6 L572.0 618.5 L573.4 623.4 L574.8 628.3 L579.0 631.1 L581.1 636.7 L583.9 644.4 L586.7 651.4 L588.1 654.2 M565.0 632.5 L560.1 638.8 L557.3 645.8 L556.6 651.4 M574.8 628.3 L574.8 639.5 L578.3 647.2 L579.7 651.4 M574.8 647.2 L570.6 650.0 L569.9 659.8 M574.8 639.5 L575.5 647.2 L576.2 662.6 M549.6 671.7 L549.6 662.6 L552.4 662.6 L552.4 658.4 L555.9 658.4 L555.9 651.4 L557.3 651.4 L557.3 665.4 L559.4 665.4 L559.4 671.7 M552.4 662.6 L552.4 671.7 M555.9 658.4 L555.9 671.7 M567.1 659.8 L569.9 659.8 L569.9 668.9 M567.1 659.8 L567.1 668.9 M574.8 671.7 L574.8 662.6 L578.3 662.6 L578.3 650.0 L581.1 650.0 L581.1 671.7 M578.3 662.6 L578.3 671.7 M576.2 662.6 L576.2 671.7 M586.7 671.7 L586.7 654.2 L588.8 654.2 L588.8 656.3 L591.6 656.3 L591.6 659.8 L594.4 659.8 L594.4 662.6 L597.9 662.6 L597.9 668.9 M588.8 656.3 L588.8 671.7 M591.6 659.8 L591.6 671.7 M594.4 662.6 L594.4 668.9 M593.7 623.4 L598.6 623.4 L598.6 626.9 L593.7 626.9 L593.7 623.4 M596.1 623.4 L596.1 626.9 M598.6 626.2 L608.4 626.2 L612.6 620.6 L614.0 617.1 L619.6 616.4 L625.2 610.1 L626.6 607.3 L633.6 607.3 M598.6 630.4 L605.6 636.0 L615.4 641.6 M598.6 626.9 L598.6 638.8 L601.4 645.8 L602.1 656.3 M598.6 638.8 L604.2 641.6 L606.3 648.6 L607.0 653.5 M598.6 638.8 L598.6 664.0 M608.4 626.2 L611.2 631.8 L615.4 635.3 M612.6 620.6 L617.5 626.2 L621.0 632.5 M614.0 617.1 L619.6 622.0 L621.7 626.9 M619.6 616.4 L623.1 620.6 L625.2 626.2 M625.2 610.1 L626.6 616.4 L625.9 621.3 M628.0 610.1 L628.0 620.6 M630.1 610.1 L630.1 620.6 M625.2 610.1 L633.6 610.1 M609.1 647.9 L609.1 653.5 M633.6 585.6 L633.6 607.3 M633.6 589.1 L642.7 589.1 M635.0 592.6 L638.5 601.0 M636.4 591.2 L641.3 599.6 M628.7 580.0 L630.8 584.2 L634.3 586.3 L634.3 588.4 M530.0 580.0 L532.1 588.4 L532.1 595.4 L530.0 598.2"/>
<path clip-path="url(#cK2)" d="M593.6 671.2 L593.6 666.0 L598.4 665.6 L598.4 659.9 L601.4 659.4 L601.4 655.9 L606.2 655.9 L606.2 653.3 L611.5 653.3 L611.5 647.6 L613.7 647.6 L613.7 641.9 L615.9 641.5 L615.9 635.8 L618.5 635.4 L618.5 632.7 L620.7 632.3 L620.7 626.6 L623.3 626.2 L623.3 623.6 L625.9 623.6 L625.9 620.9 L628.6 620.5 L630.7 620.5 L630.7 613.5 L633.4 613.5 L633.4 610.9 L636.0 610.4 M593.6 623.6 L598.4 623.6 L598.4 626.6 L593.6 626.6 L593.6 623.6 M596.2 623.6 L596.2 629.2 L598.4 629.2 L598.4 626.6 M598.4 629.2 L598.4 647.6 L601.0 654.2 L601.4 655.9 M598.4 629.7 L613.2 641.1 M598.8 639.7 L603.6 641.5 L606.2 646.7 L606.2 653.3 M599.7 645.0 L602.7 648.5 L604.1 655.9 M607.1 647.6 L607.1 653.3 M608.9 647.6 L608.9 653.3 M607.1 647.6 L611.5 647.6 M598.4 626.2 L608.4 626.2 L608.4 623.6 L611.5 623.1 L611.5 620.5 L613.7 620.1 L613.7 616.6 L618.5 616.1 L618.5 613.5 L623.3 613.1 L623.3 610.9 M608.4 626.2 L610.6 631.9 L615.9 635.8 M611.5 620.9 L615.0 625.7 L618.5 632.7 M613.7 616.6 L618.5 621.4 L620.7 626.6 M618.5 613.9 L622.9 618.7 L623.3 623.6 M623.7 611.3 L625.5 617.0 L625.9 620.9 M628.6 612.2 L628.6 620.5 M625.5 610.4 L628.6 610.4 L628.6 613.1 L625.5 613.1 L625.5 610.4 M580.0 610.0 L583.5 612.6 L587.9 618.7 L593.6 623.6 M580.0 631.0 L581.3 636.2 L586.1 649.4 L587.0 653.7 M586.6 652.9 L586.6 671.2 M588.7 653.7 L588.7 671.2 M591.4 656.4 L591.4 671.2 M593.6 659.9 L593.6 671.2 M593.6 662.1 L596.2 662.1 L596.2 666.0 M586.6 652.9 L588.7 653.7 L588.7 656.4 L591.4 656.4 L591.4 659.9 L598.4 659.9 M580.0 671.2 L593.6 671.2 M580.0 650.2 L581.7 650.2 L581.7 667.7 L586.1 667.7 L586.1 671.2"/>
<path clip-path="url(#cK3)" d="M615.9 570.4 L619.8 572.1 L623.7 577.1 L628.8 581.1 L630.5 585.0 L633.3 586.7 M628.8 581.1 L632.7 578.8 L638.4 577.1 L641.7 579.4 M633.3 563.6 L636.7 566.4 L637.0 572.6 L638.4 576.6 L641.7 579.4 L642.6 583.3 L642.6 598.5 L640.6 598.7 L640.6 601.3 L638.4 601.6 L638.4 604.7 L633.3 604.7 M633.3 586.7 L635.6 586.7 L635.6 589.5 L642.6 589.5 M633.3 586.7 L633.3 604.7 M635.6 589.5 L635.6 592.9 L637.8 596.2 L639.5 600.7 M636.7 592.3 L640.1 596.2 L640.8 598.5 M635.6 604.7 L635.6 610.3 L633.9 610.6 M625.4 607.5 L633.6 607.5 L633.6 613.1 L625.4 613.1 L625.4 607.5 M628.2 610.9 L630.5 610.9 L630.5 620.4 L628.2 620.4 M625.4 610.3 L628.2 610.3 L628.2 613.7 M623.7 610.9 L623.7 613.7 L618.7 613.7 L618.7 616.5 L613.6 616.7 L613.1 620.4 L609.1 623.2 M623.7 610.9 L625.4 610.3"/>
</g>
<rect x="245.1" y="71.1" width="509" height="658.6" fill="none" stroke="#000" stroke-width="2.3"/>
<g stroke="#000" stroke-width="1" shape-rendering="crispEdges">
<line x1="304.5" y1="730" x2="304.5" y2="734.5"/>
<line x1="363.5" y1="730" x2="363.5" y2="734.5"/>
<line x1="422.5" y1="730" x2="422.5" y2="734.5"/>
<line x1="481.5" y1="730" x2="481.5" y2="734.5"/>
<line x1="539.5" y1="730" x2="539.5" y2="734.5"/>
<line x1="598.5" y1="730" x2="598.5" y2="734.5"/>
<line x1="657.5" y1="730" x2="657.5" y2="734.5"/>
<line x1="716.5" y1="730" x2="716.5" y2="734.5"/>
<line x1="241" y1="141.5" x2="244" y2="141.5"/>
<line x1="241" y1="214.5" x2="244" y2="214.5"/>
<line x1="241" y1="287.5" x2="244" y2="287.5"/>
<line x1="241" y1="360.5" x2="244" y2="360.5"/>
<line x1="241" y1="433.5" x2="244" y2="433.5"/>
<line x1="241" y1="507.5" x2="244" y2="507.5"/>
<line x1="241" y1="580.5" x2="244" y2="580.5"/>
<line x1="241" y1="653.5" x2="244" y2="653.5"/>
<line x1="241" y1="726.5" x2="244" y2="726.5"/>
</g>
<g class="ax">
<text x="304.5" y="748" text-anchor="middle" textLength="44.805" lengthAdjust="spacingAndGlyphs">62.26W</text>
<text x="363.5" y="748" text-anchor="middle" textLength="44.805" lengthAdjust="spacingAndGlyphs">62.24W</text>
<text x="422.5" y="748" text-anchor="middle" textLength="44.805" lengthAdjust="spacingAndGlyphs">62.22W</text>
<text x="481.5" y="748" text-anchor="middle" textLength="36.977" lengthAdjust="spacingAndGlyphs">62.2W</text>
<text x="539.5" y="748" text-anchor="middle" textLength="44.805" lengthAdjust="spacingAndGlyphs">62.18W</text>
<text x="598.5" y="748" text-anchor="middle" textLength="44.805" lengthAdjust="spacingAndGlyphs">62.16W</text>
<text x="657.5" y="748" text-anchor="middle" textLength="44.805" lengthAdjust="spacingAndGlyphs">62.14W</text>
<text x="716.5" y="748" text-anchor="middle" textLength="44.805" lengthAdjust="spacingAndGlyphs">62.12W</text>
<text x="237.3" y="145.7" text-anchor="end" textLength="43.775" lengthAdjust="spacingAndGlyphs">16.82N</text>
<text x="237.3" y="218.7" text-anchor="end" textLength="35.947" lengthAdjust="spacingAndGlyphs">16.8N</text>
<text x="237.3" y="291.7" text-anchor="end" textLength="43.775" lengthAdjust="spacingAndGlyphs">16.78N</text>
<text x="237.3" y="364.7" text-anchor="end" textLength="43.775" lengthAdjust="spacingAndGlyphs">16.76N</text>
<text x="237.3" y="437.7" text-anchor="end" textLength="43.775" lengthAdjust="spacingAndGlyphs">16.74N</text>
<text x="237.3" y="511.7" text-anchor="end" textLength="43.775" lengthAdjust="spacingAndGlyphs">16.72N</text>
<text x="237.3" y="584.7" text-anchor="end" textLength="35.947" lengthAdjust="spacingAndGlyphs">16.7N</text>
<text x="237.3" y="657.7" text-anchor="end" textLength="43.775" lengthAdjust="spacingAndGlyphs">16.68N</text>
<text x="237.3" y="730.7" text-anchor="end" textLength="43.775" lengthAdjust="spacingAndGlyphs">16.66N</text>
</g>
<g class="cb">
<rect x="868.5" y="635.9" width="18" height="42.7" fill="#aaaaaa"/>
<rect x="868.5" y="593.1" width="18" height="42.7" fill="#a000c8"/>
<rect x="868.5" y="550.4" width="18" height="42.7" fill="#8200dc"/>
<rect x="868.5" y="507.6" width="18" height="42.7" fill="#1e3cff"/>
<rect x="868.5" y="464.9" width="18" height="42.7" fill="#00a0ff"/>
<rect x="868.5" y="422.2" width="18" height="42.7" fill="#00c8c8"/>
<rect x="868.5" y="379.4" width="18" height="42.7" fill="#00d28c"/>
<rect x="868.5" y="336.7" width="18" height="42.7" fill="#00dc00"/>
<rect x="868.5" y="293.9" width="18" height="42.7" fill="#a0e632"/>
<rect x="868.5" y="251.2" width="18" height="42.7" fill="#e6dc32"/>
<rect x="868.5" y="208.5" width="18" height="42.7" fill="#e6af2d"/>
<rect x="868.5" y="165.7" width="18" height="42.7" fill="#f08228"/>
<rect x="868.5" y="123.0" width="18" height="42.7" fill="#fa3c3c"/>
<polygon points="868.5,123 886.5,123 877.5,80" fill="#f00082"/>
<polygon points="868.5,678.6 886.5,678.6 877.5,721" fill="#ffffff"/>
<g stroke="#000" stroke-width="1" fill="none">
<path d="M868.5 123 L877.5 80 L886.5 123 L886.5 678.6 L877.5 721 L868.5 678.6 Z"/>
<line x1="868.5" y1="678.6" x2="886.5" y2="678.6"/>
<line x1="868.5" y1="635.9" x2="886.5" y2="635.9"/>
<line x1="868.5" y1="593.1" x2="886.5" y2="593.1"/>
<line x1="868.5" y1="550.4" x2="886.5" y2="550.4"/>
<line x1="868.5" y1="507.6" x2="886.5" y2="507.6"/>
<line x1="868.5" y1="464.9" x2="886.5" y2="464.9"/>
<line x1="868.5" y1="422.2" x2="886.5" y2="422.2"/>
<line x1="868.5" y1="379.4" x2="886.5" y2="379.4"/>
<line x1="868.5" y1="336.7" x2="886.5" y2="336.7"/>
<line x1="868.5" y1="293.9" x2="886.5" y2="293.9"/>
<line x1="868.5" y1="251.2" x2="886.5" y2="251.2"/>
<line x1="868.5" y1="208.5" x2="886.5" y2="208.5"/>
<line x1="868.5" y1="165.7" x2="886.5" y2="165.7"/>
<line x1="868.5" y1="123.0" x2="886.5" y2="123.0"/>
</g>
<text x="892" y="684.9">1</text>
<text x="892" y="642.2">5</text>
<text x="892" y="599.4">10</text>
<text x="892" y="556.7">15</text>
<text x="892" y="513.9">20</text>
<text x="892" y="471.2">25</text>
<text x="892" y="428.5">30</text>
<text x="892" y="385.7">50</text>
<text x="892" y="343.0">80</text>
<text x="892" y="300.2">110</text>
<text x="892" y="257.5">140</text>
<text x="892" y="214.8">180</text>
<text x="892" y="172.0">220</text>
<text x="892" y="129.3">250</text>
</g>
</svg>
</body></html>
